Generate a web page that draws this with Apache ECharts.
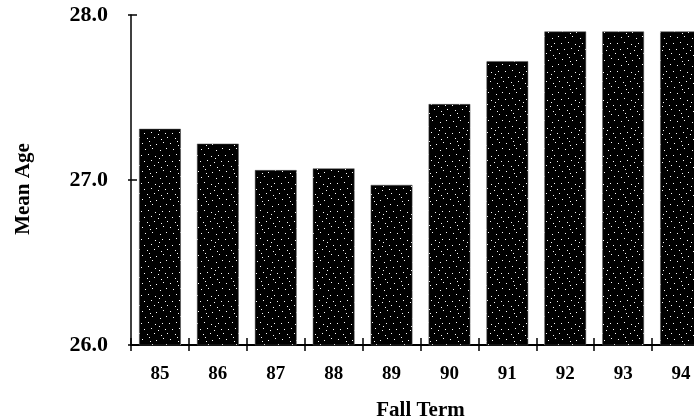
<!DOCTYPE html>
<html>
<head>
<meta charset="utf-8">
<script src="https://cdn.jsdelivr.net/npm/echarts@6/dist/echarts.min.js"></script>
<style>
html,body{margin:0;padding:0;background:#fff;}
#chart{width:694px;height:420px;}
</style>
</head>
<body>
<div id="chart"></div>
<script>
const categories = ['85','86','87','88','89','90','91','92','93','94'];
const meanAge = [27.31, 27.22, 27.06, 27.07, 26.97, 27.46, 27.72, 27.90, 27.90, 27.90];
const yTicks = [26.0, 27.0, 28.0];

// stipple pattern (black with scattered white dots)
function makePattern() {
  const c = document.createElement('canvas');
  c.width = 28; c.height = 28;
  const g = c.getContext('2d');
  g.fillStyle = '#000';
  g.fillRect(0, 0, 28, 28);
  g.fillStyle = '#fff';
  const dots = [[2,3],[9,1],[16,4],[23,2],[5,9],[12,8],[20,10],[26,8],[1,15],[8,14],[15,16],[22,15],
                [4,21],[11,20],[18,22],[25,21],[7,26],[14,25],[21,27],[27,25],[10,5],[19,18]];
  dots.forEach(d => g.fillRect(d[0], d[1], 1, 1));
  return c;
}
const pattern = makePattern();

const chart = echarts.init(document.getElementById('chart'), null, {renderer: 'canvas'});
const fontFam = '"Liberation Serif", "Times New Roman", serif';
chart.setOption({
  animation: false,
  backgroundColor: '#fff',
  grid: {left: 131, top: 15, width: 579, height: 330, containLabel: false, outerBoundsMode: 'none'},
  xAxis: [{
    type: 'category',
    data: categories,
    name: 'Fall Term',
    nameLocation: 'middle',
    nameGap: 55,
    nameTextStyle: {fontFamily: fontFam, fontWeight: 'bold', fontSize: 21, color: '#000'},
    axisLine: {lineStyle: {color: '#000', width: 2}},
    axisTick: {show: true, length: 6, lineStyle: {color: '#000', width: 1.5}},
    axisLabel: {fontFamily: fontFam, fontWeight: 'bold', fontSize: 19, color: '#000', margin: 20}
  }, {
    type: 'category',
    data: categories,
    position: 'bottom',
    axisLine: {show: false},
    axisTick: {show: true, inside: true, length: 7, lineStyle: {color: '#000', width: 1.5}},
    axisLabel: {show: false}
  }],
  yAxis: [{
    type: 'value',
    min: 26,
    max: 28,
    interval: 1,
    name: 'Mean Age',
    nameLocation: 'middle',
    nameGap: 97,
    nameRotate: 90,
    nameTextStyle: {fontFamily: fontFam, fontWeight: 'bold', fontSize: 21, color: '#000', padding: [0, 18, 0, 0]},
    axisLine: {show: true, lineStyle: {color: '#000', width: 1.5}},
    axisTick: {show: true, length: 3, lineStyle: {color: '#000', width: 1.5}},
    axisLabel: {fontFamily: fontFam, fontWeight: 'bold', fontSize: 22, color: '#000', margin: 23,
      formatter: v => yTicks.includes(v) ? v.toFixed(1) : ''},
    splitLine: {show: false}
  }, {
    type: 'value',
    min: 26,
    max: 28,
    interval: 1,
    position: 'left',
    axisLine: {show: false},
    axisTick: {show: true, inside: true, length: 6, lineStyle: {color: '#000', width: 1.5}},
    axisLabel: {show: false},
    splitLine: {show: false}
  }],
  series: [{
    type: 'bar',
    data: meanAge,
    barCategoryGap: '28%',
    itemStyle: {color: {image: pattern, repeat: 'repeat'}, borderColor: '#555', borderWidth: 0.5}
  }]
});
</script>
</body>
</html>
